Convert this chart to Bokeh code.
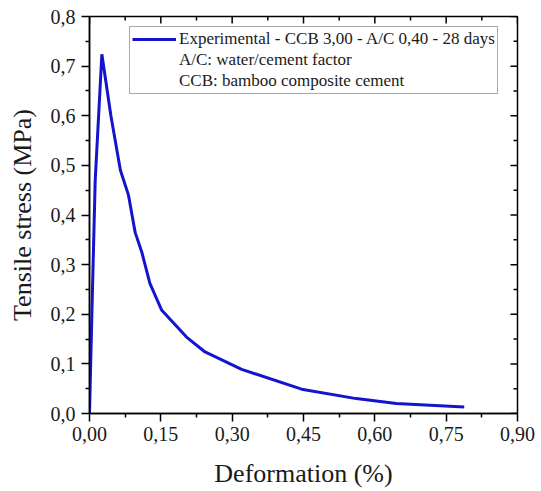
import math
from bokeh.plotting import figure
from bokeh.models import (ColumnDataSource, LinearAxis, FixedTicker, CustomJSTickFormatter,
                          Legend, LegendItem, Range1d)
from bokeh.embed import file_html
from bokeh.resources import INLINE

# Data
deformation = [0.0, 0.006, 0.012, 0.026, 0.045, 0.065, 0.082, 0.096, 0.110, 0.127,
               0.152, 0.204, 0.243, 0.320, 0.446, 0.561, 0.645, 0.788]
stress = [0.0, 0.24, 0.47, 0.724, 0.60, 0.49, 0.44, 0.365, 0.325, 0.262,
          0.208, 0.154, 0.124, 0.089, 0.049, 0.030, 0.020, 0.013]

x_ticks = [0.0, 0.15, 0.30, 0.45, 0.60, 0.75, 0.90]
x_minor = [0.075, 0.225, 0.375, 0.525, 0.675, 0.825]
y_ticks = [0.0, 0.1, 0.2, 0.3, 0.4, 0.5, 0.6, 0.7, 0.8]
y_minor = [0.05, 0.15, 0.25, 0.35, 0.45, 0.55, 0.65, 0.75]

x_min, x_max = 0.0, 0.9
y_min, y_max = 0.0, 0.8

series_label = "Experimental - CCB 3,00 - A/C 0,40 - 28 days"
note_lines = ["A/C: water/cement factor", "CCB: bamboo composite cement"]

FONT = "Liberation Serif"
LINE_COLOR = "#1414cc"

p = figure(width=541, height=491, output_backend="svg", toolbar_location=None,
           x_range=Range1d(x_min, x_max), y_range=Range1d(y_min, y_max),
           x_axis_type=None, y_axis_type=None,
           min_border_left=89, min_border_right=24, min_border_top=16, min_border_bottom=78)
p.grid.visible = False
p.outline_line_color = "black"
p.outline_line_width = 1.5
p.background_fill_color = "white"
p.border_fill_color = "white"

xt = FixedTicker(ticks=x_ticks, minor_ticks=x_minor)
yt = FixedTicker(ticks=y_ticks, minor_ticks=y_minor)
xf = CustomJSTickFormatter(code="return tick.toFixed(2).replace('.', ',');")
yf = CustomJSTickFormatter(code="return tick.toFixed(1).replace('.', ',');")


def style_axis(ax):
    ax.axis_line_color = "black"
    ax.axis_line_width = 1.5
    ax.major_tick_line_color = "black"
    ax.minor_tick_line_color = "black"
    ax.major_tick_line_width = 1.5
    ax.minor_tick_line_width = 1.5
    ax.major_tick_out, ax.major_tick_in = 8, 0
    ax.minor_tick_out, ax.minor_tick_in = 4, 0
    ax.major_label_text_font = FONT
    ax.major_label_text_font_size = "20px"
    ax.major_label_text_color = "#1a1a1a"
    ax.axis_label_text_font = FONT
    ax.axis_label_text_font_size = "26px"
    ax.axis_label_text_font_style = "normal"
    ax.axis_label_text_color = "#1a1a1a"


xb = LinearAxis(ticker=xt, formatter=xf, axis_label="Deformation (%)")
style_axis(xb)
xb.major_label_standoff = 5
xb.axis_label_standoff = 15
p.add_layout(xb, "below")

yl = LinearAxis(ticker=yt, formatter=yf, axis_label="Tensile stress (MPa)")
style_axis(yl)
yl.major_label_standoff = 6
yl.axis_label_standoff = 11
p.add_layout(yl, "left")

# inward ticks on the top and right frame edges
p.ray(x=x_ticks, y=[y_max] * len(x_ticks), length=7, length_units="screen",
      angle=-math.pi / 2, line_color="black", line_width=1.5)
p.ray(x=x_minor, y=[y_max] * len(x_minor), length=4, length_units="screen",
      angle=-math.pi / 2, line_color="black", line_width=1.5)
p.ray(x=[x_max] * len(y_ticks), y=y_ticks, length=7, length_units="screen",
      angle=math.pi, line_color="black", line_width=1.5)
p.ray(x=[x_max] * len(y_minor), y=y_minor, length=4, length_units="screen",
      angle=math.pi, line_color="black", line_width=1.5)

src = ColumnDataSource(dict(x=deformation, y=stress))
r = p.line("x", "y", source=src, line_color=LINE_COLOR, line_width=3)

dummy = p.line(x=[], y=[], line_alpha=0)

items = [LegendItem(label=series_label, renderers=[r])]
for t in note_lines:
    items.append(LegendItem(label=t, renderers=[dummy]))

legend = Legend(items=items, location=(40, 319), margin=0, padding=2, spacing=1,
                glyph_width=44, glyph_height=20, label_height=20, label_standoff=3,
                label_text_font=FONT, label_text_font_size="17px", label_text_color="#1a1a1a",
                border_line_color="#555555", border_line_width=1,
                background_fill_color="white", background_fill_alpha=1)
p.add_layout(legend, "center")

open("out.html", "w").write(file_html(p, INLINE))
